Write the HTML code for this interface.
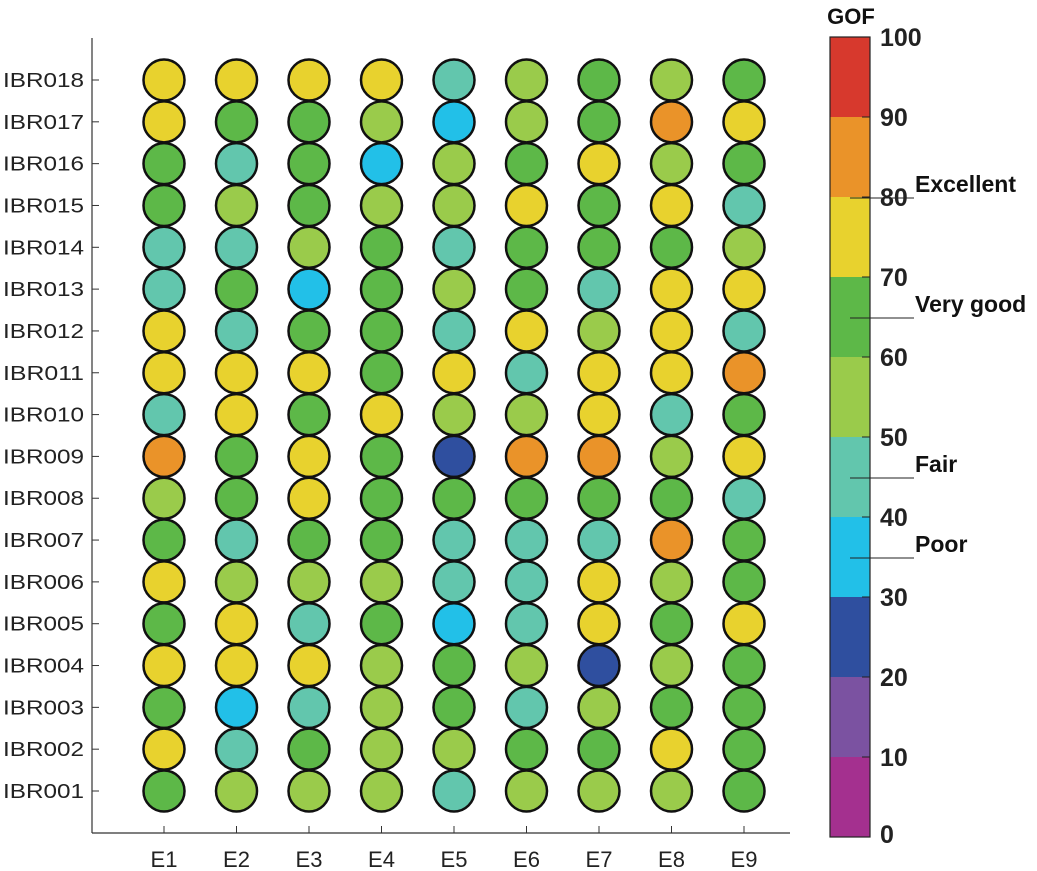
<!DOCTYPE html>
<html><head><meta charset="utf-8"><style>
html,body{margin:0;padding:0;background:#fff;}
svg{display:block;font-family:"Liberation Sans",Arial,sans-serif;}
</style></head><body>
<svg id="chart" width="1037" height="871" viewBox="0 0 1037 871">
<g id="axes"></g>
<g id="dots"></g>
<g id="cbar"></g>
</svg>
<script>
const rows = ["IBR001","IBR002","IBR003","IBR004","IBR005","IBR006","IBR007","IBR008","IBR009","IBR010","IBR011","IBR012","IBR013","IBR014","IBR015","IBR016","IBR017","IBR018"];
const cols = ["E1","E2","E3","E4","E5","E6","E7","E8","E9"];
const gof = [
 [65,55,55,55,45,55,55,55,65],
 [75,45,65,55,55,65,65,75,65],
 [65,35,45,55,65,45,55,65,65],
 [75,75,75,55,65,55,25,55,65],
 [65,75,45,65,35,45,75,65,75],
 [75,55,55,55,45,45,75,55,65],
 [65,45,65,65,45,45,45,85,65],
 [55,65,75,65,65,65,65,65,45],
 [85,65,75,65,25,85,85,55,75],
 [45,75,65,75,55,55,75,45,65],
 [75,75,75,65,75,45,75,75,85],
 [75,45,65,65,45,75,55,75,45],
 [45,65,35,65,55,65,45,75,75],
 [45,45,55,65,45,65,65,65,55],
 [65,55,65,55,55,75,65,75,45],
 [65,45,65,35,55,65,75,55,65],
 [75,65,65,55,35,55,65,85,75],
 [75,75,75,75,45,55,65,55,65]
];
const cbTicks = [0,10,20,30,40,50,60,70,80,90,100];
const binColors = ["#a4308f","#7b52a1","#2f4f9f","#22c0e8","#62c6ad","#9acb4b","#5db848","#e8d22e","#ea9329","#d7392d"];
const qualLabels = ["Excellent","Very good","Fair","Poor"];
const qualValues = [80,65,45,35];

const NS="http://www.w3.org/2000/svg";
function mk(tag,attrs,parent){const e=document.createElementNS(NS,tag);for(const k in attrs)e.setAttribute(k,attrs[k]);parent.appendChild(e);return e;}
const xS = i => 164 + i*72.5;
const yS = i => 791 - i*(711/17);
const cY = v => 837 - v*8;
const colorOf = v => binColors[Math.min(9,Math.floor(v/10))];

const axes=document.getElementById('axes');
let a=mk('line',{x1:92,y1:38,x2:92,y2:833,stroke:'#333','stroke-width':1.2},axes);

a=mk('line',{x1:92,y1:833,x2:790,y2:833,stroke:'#333','stroke-width':1.2},axes);

rows.forEach((r,i)=>{
  const y=yS(i);
  const t=mk('line',{x1:92,y1:y,x2:99,y2:y,stroke:'#333','stroke-width':1},axes);
  
  const tx=mk('text',{x:84,y:y+7,'text-anchor':'end','font-size':20,fill:'#222',textLength:81,lengthAdjust:'spacingAndGlyphs'},axes);
  tx.textContent=r;
  
});
cols.forEach((c,j)=>{
  const x=xS(j);
  const t=mk('line',{x1:x,y1:833,x2:x,y2:826,stroke:'#333','stroke-width':1},axes);
  
  const tx=mk('text',{x:x,y:867,'text-anchor':'middle','font-size':22,fill:'#222'},axes);
  tx.textContent=c;
  
});
const dots=document.getElementById('dots');
gof.forEach((row,i)=>row.forEach((v,j)=>{
  const c=mk('circle',{cx:xS(j),cy:yS(i),r:20.5,fill:colorOf(v),stroke:'#111','stroke-width':2.5},dots);
  
  
}));
const cb=document.getElementById('cbar');
binColors.forEach((col,k)=>{
  const r=mk('rect',{x:830,y:cY((k+1)*10),width:40,height:cY(k*10)-cY((k+1)*10),fill:col},cb);
  
});
a=mk('rect',{x:830,y:cY(100),width:40,height:cY(0)-cY(100),fill:'none',stroke:'#222','stroke-width':1.2},cb);

cbTicks.forEach(v=>{
  const y=cY(v);
  const t=mk('line',{x1:862,y1:y,x2:870,y2:y,stroke:'#222','stroke-width':1},cb);
  
  const tx=mk('text',{x:880,y:Math.min(y+9,843),'font-size':25,'font-weight':'bold',fill:'#222'},cb);
  tx.textContent=v;
  
});
a=mk('text',{x:851,y:24,'text-anchor':'middle','font-size':22,'font-weight':'bold',fill:'#111'},cb);
a.textContent='GOF';

qualLabels.forEach((q,k)=>{
  const y=cY(qualValues[k])+1;
  const l=mk('line',{x1:850,y1:y,x2:914,y2:y,stroke:'#222','stroke-width':1},cb);
  
  const tx=mk('text',{x:915,y:y-6,'font-size':23,'font-weight':'bold',fill:'#111'},cb);
  tx.textContent=q;
  
});
</script>
</body></html>
